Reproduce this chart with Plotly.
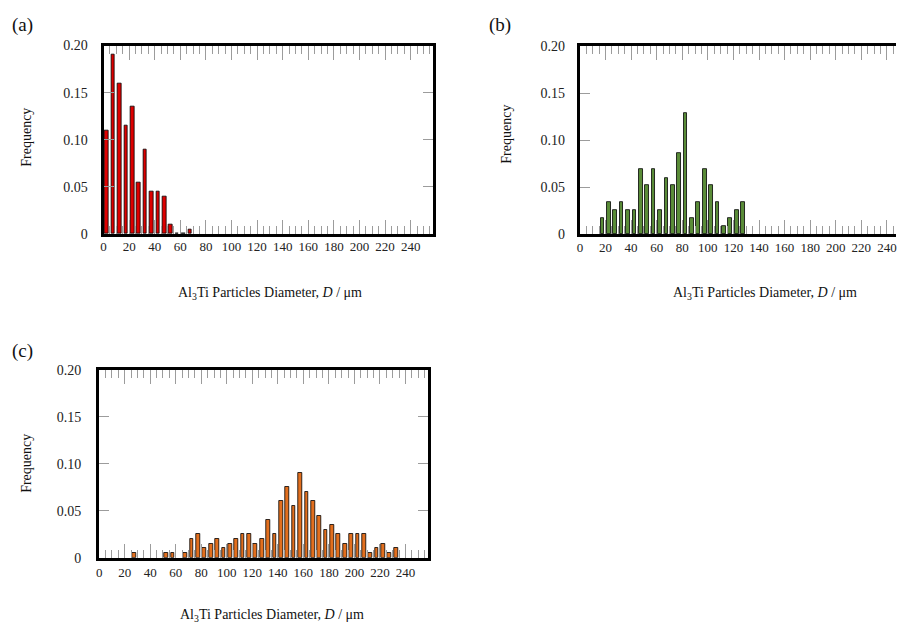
import plotly.graph_objects as go

# Bin centres (µm) and relative frequencies for each Al3Ti size distribution
a_diam = [2.5, 7.5, 12.5, 17.5, 22.5, 27.5, 32.5, 37.5, 42.5, 47.5, 52.5, 57.5, 62.5, 67.5]
a_freq = [0.110, 0.190, 0.160, 0.115, 0.135, 0.055, 0.090, 0.045, 0.045, 0.040, 0.010, 0.0, 0.0, 0.005]

b_diam = [17.5, 22.5, 27.5, 32.5, 37.5, 42.5, 47.5, 52.5, 57.5, 62.5, 67.5, 72.5,
          77.5, 82.5, 87.5, 92.5, 97.5, 102.5, 107.5, 112.5, 117.5, 122.5, 127.5]
b_freq = [0.017, 0.034, 0.026, 0.034, 0.026, 0.026, 0.069, 0.052, 0.069, 0.026, 0.060, 0.052,
          0.086, 0.129, 0.017, 0.034, 0.069, 0.052, 0.034, 0.009, 0.017, 0.026, 0.034]

c_diam = [27.5, 52.5, 57.5, 67.5, 72.5, 77.5, 82.5, 87.5, 92.5, 97.5, 102.5, 107.5, 112.5,
          117.5, 122.5, 127.5, 132.5, 137.5, 142.5, 147.5, 152.5, 157.5, 162.5, 167.5,
          172.5, 177.5, 182.5, 187.5, 192.5, 197.5, 202.5, 207.5, 212.5, 217.5, 222.5,
          227.5, 232.5]
c_freq = [0.005, 0.005, 0.005, 0.005, 0.020, 0.025, 0.010, 0.015, 0.020, 0.010, 0.015, 0.020,
          0.025, 0.025, 0.015, 0.020, 0.040, 0.025, 0.060, 0.075, 0.055, 0.090, 0.070,
          0.060, 0.045, 0.030, 0.035, 0.025, 0.015, 0.025, 0.025, 0.025, 0.005, 0.010,
          0.015, 0.005, 0.010]

x_ticks = list(range(0, 241, 20))
y_ticks = [0, 0.05, 0.10, 0.15, 0.20]
y_ticktext = ["0", "0.05", "0.10", "0.15", "0.20"]

panel_letters = ["(a)", "(b)", "(c)"]
x_title = "Al<sub>3</sub>Ti Particles Diameter, <i>D</i> / μm"
y_title = "Frequency"

W, H = 897, 634
FONT = "Liberation Serif, Times New Roman, serif"
TICK_GREY = "#9c9c9c"


def px(x):
    return x / W


def py(y):
    return 1 - y / H


fig = go.Figure()

series = [
    (a_diam, a_freq, "#dd0000", "x", "y"),
    (b_diam, b_freq, "#5a8c38", "x2", "y2"),
    (c_diam, c_freq, "#e26f1e", "x3", "y3"),
]
for xs, ys, col, xa, ya in series:
    fig.add_trace(go.Bar(
        x=xs, y=ys, width=2.9, xaxis=xa, yaxis=ya,
        marker=dict(color=col, line=dict(color="black", width=0.8)),
        showlegend=False, hoverinfo="x+y",
    ))


def xaxis(domain, anchor, rng, standoff):
    return dict(
        domain=domain, anchor=anchor, range=rng,
        showline=True, linecolor="black", linewidth=3, mirror="ticks",
        ticks="inside", ticklen=14, tickwidth=1.2, tickcolor=TICK_GREY,
        tickvals=x_ticks, ticktext=[str(v) for v in x_ticks],
        tickfont=dict(family=FONT, size=13, color="#222"),
        ticklabelstandoff=standoff, ticklabeloverflow="allow",
        minor=dict(dtick=5, tick0=0, ticks="inside", ticklen=8,
                   tickwidth=1, tickcolor=TICK_GREY, showgrid=False),
        showgrid=False, zeroline=False, fixedrange=True,
    )


def yaxis(domain, anchor, mirror, standoff):
    return dict(
        domain=domain, anchor=anchor, range=[0, 0.2],
        showline=True, linecolor="black", linewidth=3, mirror=mirror,
        ticks="inside", ticklen=10, tickwidth=1, tickcolor=TICK_GREY,
        tickvals=y_ticks, ticktext=y_ticktext,
        tickfont=dict(family=FONT, size=14, color="#222"),
        ticklabelstandoff=standoff,
        showgrid=False, zeroline=False, fixedrange=True,
    )


fig.update_layout(
    width=W, height=H,
    margin=dict(l=0, r=0, t=0, b=0),
    paper_bgcolor="white", plot_bgcolor="white",
    bargap=0,
    xaxis=xaxis([px(101), px(432)], "y", [0, 257.5], -2),
    yaxis=yaxis([py(232.5), py(39.5)], "x", "ticks", 10),
    xaxis2=xaxis([px(579.5), 1.0], "y2", [0, (W - 579.5) / 1.285], -1),
    yaxis2=yaxis([py(233), py(40)], "x2", False, 9),
    xaxis3=xaxis([px(96.6), px(426.7)], "y3", [0, 257.5], 1),
    yaxis3=yaxis([py(564), py(371.7)], "x3", "ticks", 12),
)

annotations = []
# Panel letters
for (x, y), t in zip([(7, 18), (486, 18), (7, 352)], panel_letters):
    annotations.append(dict(x=px(x), y=py(y), xref="paper", yref="paper", text=t,
                            showarrow=False, xanchor="left", yanchor="middle",
                            font=dict(family=FONT, size=19, color="#111")))
# X axis titles
for x, y in [(268, 293), (765, 293), (270, 623)]:
    annotations.append(dict(x=px(x), y=py(y), xref="paper", yref="paper", text=x_title,
                            showarrow=False, xanchor="center", yanchor="middle",
                            font=dict(family=FONT, size=14, color="#111")))
# Y axis titles
for x, y in [(24, 133), (506, 130), (24, 467)]:
    annotations.append(dict(x=px(x), y=py(y), xref="paper", yref="paper", text=y_title,
                            showarrow=False, textangle=-90, xanchor="center", yanchor="middle",
                            font=dict(family=FONT, size=14, color="#111")))
fig.update_layout(annotations=annotations)

fig.write_html("out.html")
